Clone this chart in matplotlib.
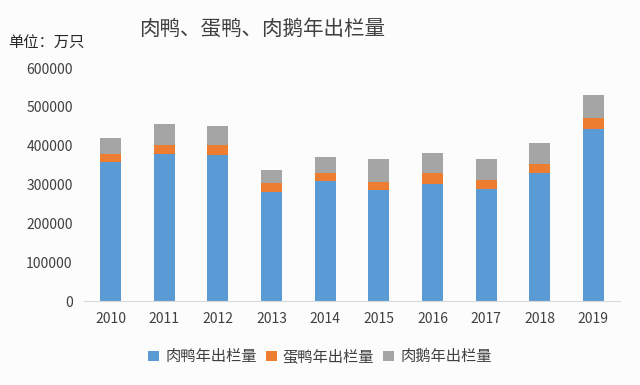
import matplotlib.pyplot as plt
import numpy as np

plt.rcParams['font.family'] = ['Noto Sans CJK SC', 'DejaVu Sans']

years = ['2010', '2011', '2012', '2013', '2014', '2015', '2016', '2017', '2018', '2019']
meat_duck = [358000, 379000, 376000, 282000, 310000, 287000, 302000, 289000, 331000, 444000]
egg_duck = [21000, 24000, 27000, 22000, 20000, 21000, 28000, 24000, 21000, 28000]
meat_goose = [41000, 52000, 48000, 34000, 42000, 57000, 52000, 52000, 54000, 58000]

fig = plt.figure(figsize=(6.4, 3.85), dpi=100, facecolor='#fdfcfd')
ax = fig.add_axes([0.131, 0.218, 0.838, 0.605])
ax.set_facecolor('#fdfcfd')

x = np.arange(len(years))
w = 0.39
b1 = ax.bar(x, meat_duck, w, color='#5b9bd5', label='肉鸭年出栏量')
b2 = ax.bar(x, egg_duck, w, bottom=meat_duck, color='#ed7d31', label='蛋鸭年出栏量')
bottom2 = np.array(meat_duck) + np.array(egg_duck)
b3 = ax.bar(x, meat_goose, w, bottom=bottom2, color='#a5a5a5', label='肉鹅年出栏量')

ax.set_xlim(-0.5, len(years) - 0.5)
ax.set_ylim(0, 600000)
ax.set_yticks(range(0, 600001, 100000))
ax.set_xticks(x)
ax.set_xticklabels(years)
ax.tick_params(length=0, labelsize=10, colors='#404040', pad=8)
for s in ['top', 'right', 'left']:
    ax.spines[s].set_visible(False)
ax.spines['bottom'].set_color('#d9d9d9')

fig.text(0.41, 0.925, '肉鸭、蛋鸭、肉鹅年出栏量', ha='center', va='center',
         fontsize=14.8, color='#404040', fontweight='light')
fig.text(0.012, 0.888, '单位：万只', ha='left', va='center', fontsize=11, color='#262626')

fig.legend(handles=[b1, b2, b3], loc='center', bbox_to_anchor=(0.5, 0.073), ncol=3,
           frameon=False, fontsize=11, handlelength=0.7, handleheight=0.7,
           handletextpad=0.4, columnspacing=0.6, labelcolor='#404040')

fig.savefig('out.png', dpi=100, facecolor=fig.get_facecolor())
